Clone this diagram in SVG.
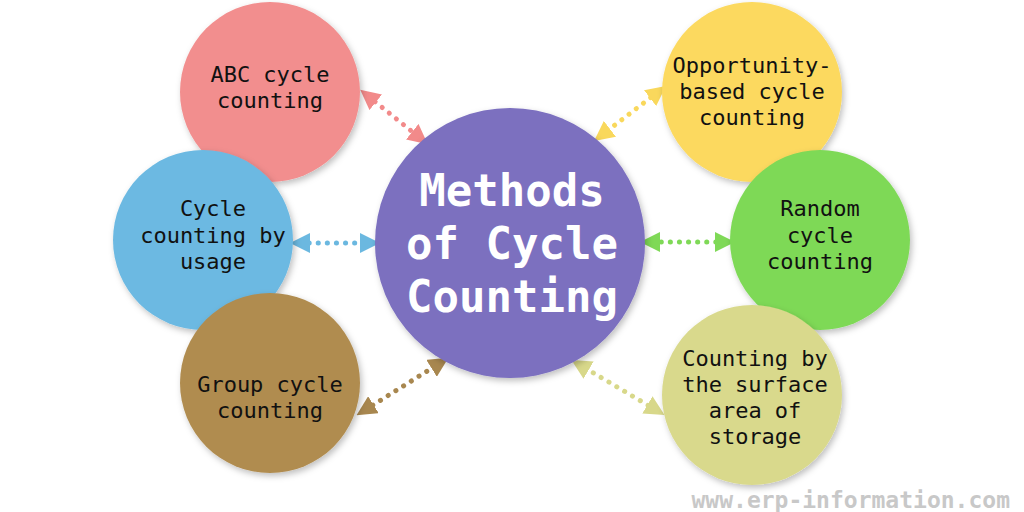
<svg xmlns="http://www.w3.org/2000/svg" width="1024" height="512" viewBox="0 0 1024 512">
<defs>
<filter id="sh" x="-20%" y="-20%" width="140%" height="140%"><feDropShadow dx="2" dy="3" stdDeviation="3" flood-opacity="0.25"/></filter>
<marker id="ar" viewBox="0 0 10 10" refX="5" refY="5" markerWidth="4" markerHeight="4" orient="auto-start-reverse"><path d="M0,0 L10,5 L0,10 z" fill="context-stroke"/></marker>
</defs>
<style>
.t{font-family:"DejaVu Sans Mono","Liberation Mono",monospace;font-size:22px;fill:#111;text-anchor:middle}
.c{font-family:"DejaVu Sans Mono","Liberation Mono",monospace;font-size:44px;font-weight:bold;fill:#fff;text-anchor:middle}
.l{stroke-width:5;stroke-dasharray:0.1 9;stroke-linecap:round;fill:none;marker-start:url(#ar);marker-end:url(#ar)}
</style>
<rect width="1024" height="512" fill="#fff"/>
<g id="connectors">
<line class="l" stroke="#f28a8a" x1="368" y1="96" x2="420" y2="138"/>
<line class="l" stroke="#6bb8e0" x1="300" y1="243" x2="370" y2="243"/>
<line class="l" stroke="#a8874f" x1="365" y1="410" x2="440" y2="363"/>
<line class="l" stroke="#f9d85c" x1="658" y1="92" x2="602" y2="135"/>
<line class="l" stroke="#7fd957" x1="725" y1="242" x2="650" y2="242"/>
<line class="l" stroke="#d8d88a" x1="656" y1="410" x2="580" y2="365"/>
</g>
<g id="center"><circle cx="510" cy="243" r="135" fill="#7b6fbf" filter="url(#sh)"/>
<text class="c" x="512" y="206">Methods</text><text class="c" x="512" y="259">of Cycle</text><text class="c" x="512" y="312">Counting</text></g>
<g id="abc"><circle cx="270" cy="92" r="90" fill="#f28e8e" filter="url(#sh)"/>
<text class="t" x="270" y="82">ABC cycle</text><text class="t" x="270" y="108">counting</text></g>
<g id="usage"><circle cx="203" cy="240" r="90" fill="#6cb9e2" filter="url(#sh)"/>
<text class="t" x="213" y="216">Cycle</text><text class="t" x="213" y="243">counting by</text><text class="t" x="213" y="269">usage</text></g>
<g id="group"><circle cx="270" cy="383" r="90" fill="#b08c50" filter="url(#sh)"/>
<text class="t" x="270" y="392">Group cycle</text><text class="t" x="270" y="418">counting</text></g>
<g id="opp"><circle cx="752" cy="92" r="90" fill="#fcd95f" filter="url(#sh)"/>
<text class="t" x="752" y="73">Opportunity-</text><text class="t" x="752" y="99">based cycle</text><text class="t" x="752" y="125">counting</text></g>
<g id="random"><circle cx="820" cy="240" r="90" fill="#7ed957" filter="url(#sh)"/>
<text class="t" x="820" y="216">Random</text><text class="t" x="820" y="243">cycle</text><text class="t" x="820" y="269">counting</text></g>
<g id="surface"><circle cx="752" cy="395" r="90" fill="#d9d98c" filter="url(#sh)"/>
<text class="t" x="755" y="366">Counting by</text><text class="t" x="755" y="392">the surface</text><text class="t" x="755" y="418">area of</text><text class="t" x="755" y="444">storage</text></g>
<text x="1010" y="508" font-family="DejaVu Sans Mono,monospace" font-size="23" font-weight="bold" fill="#c8c8c8" text-anchor="end">www.erp-information.com</text>
</svg>
